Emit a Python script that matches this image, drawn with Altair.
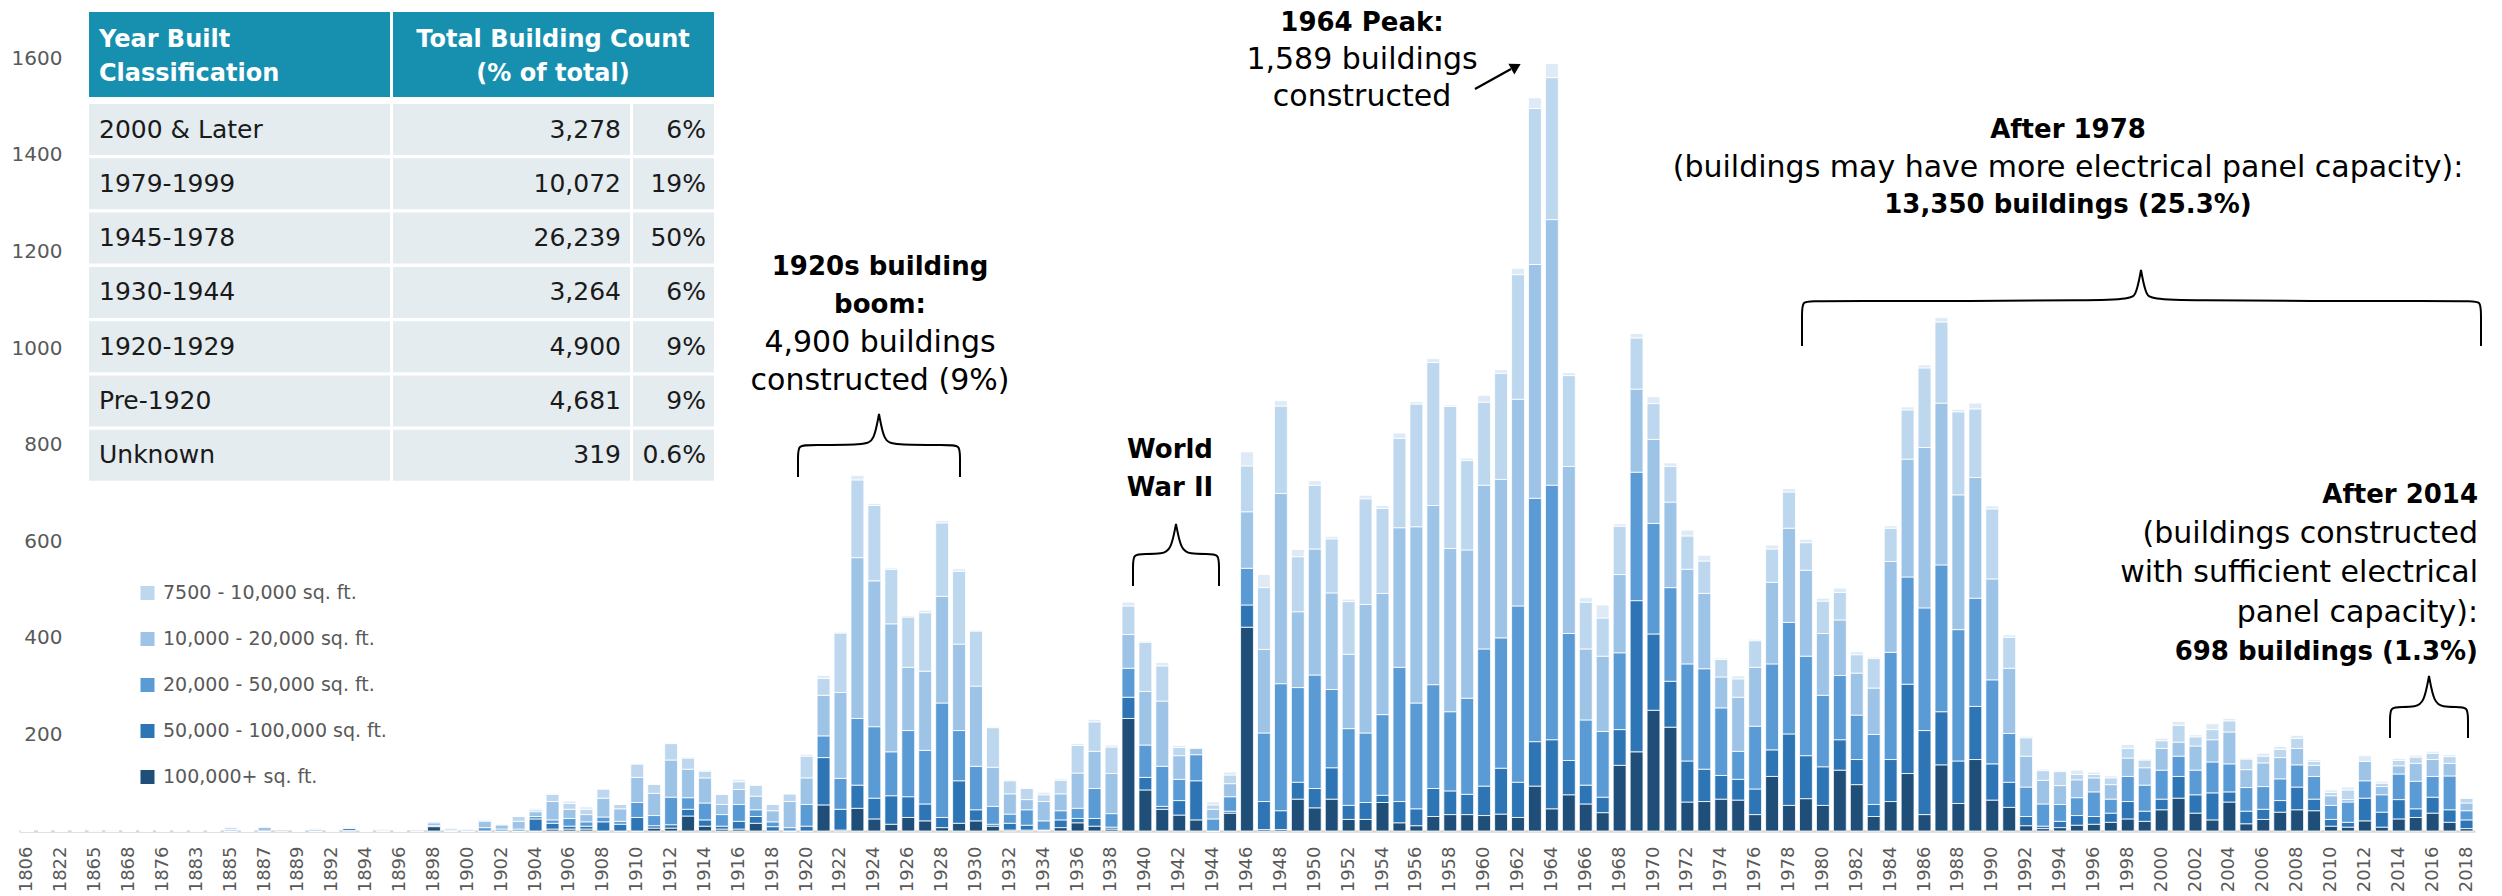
import altair as alt
import pandas as pd

# ---------------------------------------------------------------- data
# Year-built categories (x axis); only every other one is labelled.
years = ["1806", "1819", "1822", "1850", "1865", "1866", "1868", "1870", "1876", "1880",
         "1883", "1884", "1885", "1886", "1887", "1888", "1889", "1890", "1892", "1893",
         "1894", "1895", "1896", "1897"] + [str(y) for y in range(1898, 2019)]

# Building counts per year, one list per floor-area class.
s100k = [0, 0, 0, 0, 0, 0, 0, 0, 0, 0, 0, 0, 0, 0, 0, 0, 0, 0, 0, 1, 0, 0, 0, 0,
         9, 0, 0, 0, 0, 0, 0, 4, 4, 4, 0, 0,                 # 1898-1909
         0, 6, 6, 31, 10, 4, 4, 16, 0, 0,                    # 1910s
         0, 54, 2, 47, 25, 14, 28, 21, 7, 16,                # 1920s
         21, 10, 2, 2, 1, 7, 17, 10, 4, 233,                 # 1930s
         85, 45, 33, 23, 0, 37, 422, 3, 3, 66,               # 1940s
         48, 66, 24, 24, 59, 17, 11, 30, 34, 34,             # 1950s
         32, 35, 28, 93, 46, 75, 56, 38, 136, 164,           # 1960s
         250, 215, 60, 61, 66, 64, 34, 113, 53, 67,          # 1970s
         53, 126, 96, 30, 61, 119, 34, 137, 57, 148,         # 1980s
         64, 49, 11, 5, 7, 12, 14, 18, 25, 20,               # 1990s
         44, 68, 37, 23, 60, 15, 24, 39, 44, 42,             # 2000s
         10, 8, 21, 8, 25, 28, 37, 18, 5]                    # 2010-2018
s50k = [0, 0, 0, 0, 0, 0, 0, 0, 0, 0, 0, 0, 0, 0, 0, 2, 0, 0, 0, 4, 0, 0, 0, 0,
        2, 0, 0, 0, 0, 0, 25, 12, 6, 6, 19, 14,
        28, 5, 7, 14, 13, 6, 16, 14, 9, 0,
        10, 98, 43, 48, 43, 59, 43, 35, 21, 88,
        23, 4, 14, 10, 1, 16, 9, 16, 4, 44,
        26, 6, 30, 81, 0, 4, 46, 58, 39, 35,
        40, 65, 29, 35, 15, 44, 35, 58, 49, 42,
        61, 95, 73, 92, 143, 71, 39, 32, 74, 313,
        158, 95, 85, 67, 49, 43, 53, 55, 148, 89,
        80, 63, 52, 25, 87, 185, 174, 110, 88, 110,
        75, 52, 19, 5, 13, 20, 16, 19, 36, 21,
        22, 45, 38, 56, 21, 26, 21, 24, 47, 24,
        14, 10, 47, 31, 40, 18, 33, 26, 18]
s20k = [0, 0, 0, 0, 0, 0, 0, 0, 0, 0, 0, 0, 0, 0, 0, 1, 0, 0, 0, 1, 0, 0, 0, 2,
        0, 0, 0, 7, 4, 4, 5, 7, 16, 9, 10, 6,
        31, 21, 57, 24, 35, 24, 35, 14, 10, 7,
        45, 45, 64, 138, 148, 91, 137, 111, 237, 104,
        90, 37, 19, 32, 19, 19, 21, 62, 28, 60,
        67, 83, 44, 54, 25, 30, 76, 142, 263, 196,
        235, 162, 159, 144, 167, 278, 219, 215, 164, 199,
        284, 270, 365, 504, 527, 263, 135, 136, 159, 266,
        229, 194, 201, 208, 140, 58, 130, 178, 231, 206,
        148, 133, 92, 145, 222, 222, 254, 304, 272, 224,
        174, 101, 61, 46, 35, 37, 51, 29, 52, 54,
        60, 42, 51, 64, 58, 49, 47, 45, 46, 47,
        29, 42, 36, 36, 53, 57, 43, 70, 19]
s10k = [0, 0, 1, 0, 1, 1, 0, 1, 0, 1, 1, 0, 3, 0, 8, 0, 0, 3, 1, 2, 0, 2, 1, 1,
        6, 2, 0, 14, 9, 16, 10, 38, 19, 15, 39, 26,
        52, 46, 77, 59, 52, 21, 31, 28, 23, 54,
        55, 84, 178, 333, 302, 265, 131, 164, 221, 179,
        166, 81, 42, 21, 40, 35, 73, 77, 83, 70,
        111, 135, 49, 14, 20, 27, 117, 173, 394, 157,
        261, 200, 154, 266, 251, 289, 365, 371, 338, 307,
        339, 328, 428, 484, 550, 346, 147, 156, 162, 172,
        174, 177, 196, 156, 64, 112, 122, 169, 195, 178,
        128, 115, 87, 96, 188, 244, 332, 335, 279, 250,
        209, 135, 64, 49, 39, 37, 29, 30, 38, 36,
        45, 29, 50, 46, 66, 37, 49, 44, 34, 23,
        20, 5, 40, 17, 17, 37, 35, 26, 16]
s7500 = [1, 1, 0, 1, 2, 2, 1, 0, 1, 1, 1, 1, 4, 1, 1, 0, 1, 3, 1, 0, 1, 2, 0, 0,
         3, 4, 4, 0, 0, 10, 4, 15, 12, 11, 19, 9,
         28, 19, 34, 23, 14, 21, 16, 23, 13, 16,
         45, 35, 123, 161, 156, 113, 104, 121, 152, 151,
         114, 82, 27, 23, 14, 28, 57, 61, 55, 59,
         102, 73, 17, 0, 9, 18, 95, 128, 181, 114,
         132, 112, 109, 219, 176, 185, 254, 296, 294, 185,
         172, 220, 258, 323, 294, 188, 97, 79, 100, 106,
         74, 74, 69, 67, 36, 38, 55, 69, 75, 57,
         67, 57, 38, 61, 69, 102, 165, 168, 172, 142,
         145, 64, 38, 20, 29, 11, 7, 14, 20, 16,
         16, 35, 19, 21, 23, 22, 14, 17, 21, 8,
         7, 20, 0, 7, 11, 13, 13, 14, 10]
s_other = [0, 0, 0, 0, 0, 0, 0, 0, 0, 0, 0, 0, 2, 0, 0, 0, 0, 0, 0, 1, 0, 0, 0, 0,
           0, 0, 0, 3, 2, 0, 3, 2, 5, 5, 0, 0,
           0, 0, 2, 2, 2, 0, 5, 0, 0, 0,
           4, 6, 2, 9, 4, 3, 3, 5, 5, 5,
           2, 2, 2, 2, 5, 3, 4, 5, 4, 8,
           2, 7, 4, 0, 6, 6, 29, 27, 11, 15,
           9, 5, 5, 7, 6, 11, 5, 8, 3, 5,
           14, 7, 13, 22, 29, 6, 9, 27, 5, 9,
           14, 7, 12, 12, 3, 6, 3, 8, 7, 7,
           6, 9, 6, 3, 5, 6, 6, 9, 5, 12,
           6, 5, 3, 3, 2, 9, 5, 4, 8, 2,
           5, 8, 4, 12, 5, 2, 6, 6, 6, 4,
           5, 6, 12, 4, 4, 4, 4, 4, 0]

# bottom of the stack first
size_classes = ["100,000+  sq. ft.", "50,000 - 100,000 sq. ft.", "20,000 - 50,000 sq. ft.",
                "10,000 - 20,000 sq. ft.", "7500 - 10,000 sq. ft.", "Size not recorded"]
size_colors = ["#1F4E79", "#2E75B6", "#5B9BD5", "#9DC3E6", "#BDD7EE", "#DEEBF7"]
series = [s100k, s50k, s20k, s10k, s7500, s_other]

y_ticks = [200, 400, 600, 800, 1000, 1200, 1400, 1600]

# summary table
table_header = [["Year Built", "Classification"], ["Total Building Count", "(% of total)"]]
table_classes = ["2000 & Later", "1979-1999", "1945-1978", "1930-1944", "1920-1929", "Pre-1920", "Unknown"]
table_counts = ["3,278", "10,072", "26,239", "3,264", "4,900", "4,681", "319"]
table_shares = ["6%", "19%", "50%", "6%", "9%", "9%", "0.6%"]

# annotation blocks: (text, bold?)
note_peak = [("1964 Peak:", True), ("1,589 buildings", False), ("constructed", False)]
note_1920s = [("1920s building", True), ("boom:", True), ("4,900 buildings", False),
              ("constructed (9%)", False)]
note_war = [("World", True), ("War II", True)]
note_1978 = [("After 1978", True), ("(buildings may have more electrical panel capacity):", False),
             ("13,350 buildings (25.3%)", True)]
note_2014 = [("After 2014", True), ("(buildings constructed", False), ("with sufficient electrical", False),
             ("panel capacity):", False), ("698 buildings (1.3%)", True)]

for s in series:
    assert len(s) == len(years)

# ---------------------------------------------------------------- layout
FONT = "DejaVu Sans"
LEFT, TOP = 19, 10          # page position of the plot origin
W, H = 2456, 821
PAGE_W, PAGE_H = 2502, 896


def px(x):
    return x - LEFT


def py(y):
    return y - TOP


rows = []
for k, (name, vals) in enumerate(zip(size_classes, series)):
    for yr, v in zip(years, vals):
        rows.append({"year": yr, "size": name, "count": v, "k": k})
bars_df = pd.DataFrame(rows)

bars = alt.Chart(bars_df).mark_bar(stroke="white", strokeWidth=0.8).encode(
    x=alt.X("year:N", sort=years,
            scale=alt.Scale(domain=years, paddingInner=0.24, paddingOuter=0.12),
            axis=alt.Axis(values=years[::2], labelAngle=-90, title=None, ticks=False, tickSize=0,
                          labelPadding=15, labelFontSize=18, labelColor="#595959", labelFont=FONT,
                          domainColor="#D9D9D9", domainWidth=2.5, grid=False)),
    y=alt.Y("count:Q", stack="zero",
            scale=alt.Scale(domain=[0, 1700], nice=False),
            axis=alt.Axis(values=y_ticks, format="d", title=None, domain=False, ticks=False,
                          tickSize=0, grid=False, labelPadding=-43, labelAlign="right",
                          labelFontSize=20, labelColor="#595959", labelFont=FONT)),
    color=alt.Color("size:N", scale=alt.Scale(domain=size_classes, range=size_colors),
                    legend=alt.Legend(values=size_classes[4::-1], orient="none",
                                      legendX=px(138), legendY=py(583.5), title=None,
                                      symbolType="square", symbolSize=196, symbolStrokeWidth=0,
                                      labelFontSize=19, labelColor="#595959", labelFont=FONT,
                                      labelLimit=400, labelOffset=6, rowPadding=26, padding=0)),
    order=alt.Order("k:Q", sort="ascending"),
)

# summary table cells
cells = []
hdr_fill, body_fill = "#1790AF", "#E4ECF0"
cells.append({"x0": px(89), "x1": px(390), "y0": py(12), "y1": py(97), "fill": hdr_fill})
cells.append({"x0": px(393), "x1": px(714), "y0": py(12), "y1": py(97), "fill": hdr_fill})
row_top, row_pitch, row_h = 104, 54.3, 51
for r in range(len(table_classes)):
    y0 = row_top + r * row_pitch
    for a, b in [(89, 390), (393, 630), (633, 714)]:
        cells.append({"x0": px(a), "x1": px(b), "y0": py(y0), "y1": py(y0 + row_h), "fill": body_fill})
cells_df = pd.DataFrame(cells)

table_rects = alt.Chart(cells_df).mark_rect().encode(
    x=alt.X("x0:Q", scale=None, axis=None), x2="x1:Q",
    y=alt.Y("y0:Q", scale=None, axis=None), y2="y1:Q",
    color=alt.Color("fill:N", scale=None),
)


def text_layer(items, size, weight, align, color="#000000"):
    df = pd.DataFrame(items, columns=["text", "px", "py"])
    return alt.Chart(df).mark_text(font=FONT, fontSize=size, fontWeight=weight, align=align,
                                   baseline="middle", color=color).encode(
        x=alt.X("px:Q", scale=None, axis=None),
        y=alt.Y("py:Q", scale=None, axis=None),
        text="text:N",
    )


hdr_left = [(t, px(99), py(y)) for t, y in zip(table_header[0], [40, 74])]
hdr_center = [(t, px(553), py(y)) for t, y in zip(table_header[1], [40, 74])]
centers = [row_top + r * row_pitch + row_h / 2 for r in range(len(table_classes))]
body_left = [(t, px(99), py(c)) for t, c in zip(table_classes, centers)]
body_counts = [(t, px(621), py(c)) for t, c in zip(table_counts, centers)]
body_shares = [(t, px(706), py(c)) for t, c in zip(table_shares, centers)]

table_layers = [
    text_layer(hdr_left, 24, "bold", "left", "#FFFFFF"),
    text_layer(hdr_center, 24, "bold", "center", "#FFFFFF"),
    text_layer(body_left, 25, "normal", "left", "#1A1A1A"),
    text_layer(body_counts + body_shares, 25, "normal", "right", "#1A1A1A"),
]

# annotation text, placed block by block
blocks = [
    (note_peak, 1362, [23, 60, 97], "center"),
    (note_1920s, 880, [267, 305, 343, 381], "center"),
    (note_war, 1170, [450, 488], "center"),
    (note_1978, 2068, [130, 168, 205], "center"),
    (note_2014, 2478, [495, 534, 573, 613, 652], "right"),
]
ann = {("center", True): [], ("center", False): [], ("right", True): [], ("right", False): []}
for lines, x, ys, align in blocks:
    for (t, bold), y in zip(lines, ys):
        ann[(align, bold)].append((t, px(x), py(y)))
ann_layers = []
for (align, bold), items in ann.items():
    if items:
        ann_layers.append(text_layer(items, 26 if bold else 30, "bold" if bold else "normal", align))


# curly braces
def brace(bid, xl, xr, xc, yt, yh, yb, r=12):
    pts = [(xl, yb), (xl, yb), (xl, yh + r), (xl, yh), (xl + r, yh), (xc - 14, yh), (xc - 5, yh - 4),
           (xc, yt), (xc, yt), (xc, yt), (xc + 5, yh - 4), (xc + 14, yh), (xr - r, yh), (xr, yh),
           (xr, yh + r), (xr, yb), (xr, yb)]
    return [{"id": bid, "k": i, "px": px(x), "py": py(y)} for i, (x, y) in enumerate(pts)]


brace_pts = (brace("b1920", 798, 960, 879, 414, 445, 477)
             + brace("bwar", 1133, 1219, 1176, 524, 554, 586)
             + brace("b1978", 1802, 2481, 2141, 270, 301, 346)
             + brace("b2014", 2390, 2468, 2429, 676, 707, 738))
braces = alt.Chart(pd.DataFrame(brace_pts)).mark_line(
    interpolate="basis", color="#000000", strokeWidth=2).encode(
    x=alt.X("px:Q", scale=None, axis=None),
    y=alt.Y("py:Q", scale=None, axis=None),
    detail="id:N",
    order="k:Q",
)

# arrow towards the 1964 peak
arrow_df = pd.DataFrame([{"px": px(1475), "py": py(89), "px2": px(1511), "py2": py(69)}])
arrow_shaft = alt.Chart(arrow_df).mark_rule(color="#000000", strokeWidth=2.2).encode(
    x=alt.X("px:Q", scale=None, axis=None), x2="px2:Q",
    y=alt.Y("py:Q", scale=None, axis=None), y2="py2:Q",
)
head_df = pd.DataFrame([{"px": px(1516), "py": py(66.5)}])
arrow_head = alt.Chart(head_df).mark_point(shape="triangle-up", filled=True, size=150, angle=61,
                                           color="#000000", opacity=1).encode(
    x=alt.X("px:Q", scale=None, axis=None),
    y=alt.Y("py:Q", scale=None, axis=None),
)

chart = alt.layer(
    bars, table_rects, *table_layers, braces, arrow_shaft, arrow_head, *ann_layers
).resolve_scale(
    x="independent", y="independent"
).properties(
    width=W, height=H,
    padding={"left": LEFT, "top": TOP, "right": PAGE_W - LEFT - W, "bottom": PAGE_H - TOP - H},
    autosize=alt.AutoSizeParams(type="none"),
    background="#FFFFFF",
).configure_view(strokeWidth=0)

chart.save("out.html", embed_options={"renderer": "svg", "actions": False})
